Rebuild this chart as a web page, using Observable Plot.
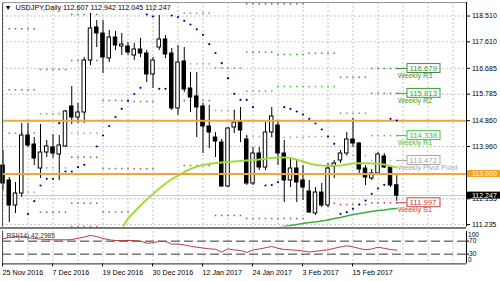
<!DOCTYPE html>
<html><head><meta charset="utf-8">
<script src="https://cdn.jsdelivr.net/npm/d3@7"></script>
<script src="https://cdn.jsdelivr.net/npm/@observablehq/plot@0.6"></script>
<style>
html,body{margin:0;padding:0;background:#fff;}
#chart{position:relative;width:500px;height:281px;overflow:hidden;font-family:"Liberation Sans",Arial,sans-serif;}
#main{position:absolute;left:0;top:0;}
#sep{position:absolute;left:0;top:227px;width:466px;height:2px;background:#7a7a7a;}
#rsi{position:absolute;left:0;top:229px;}
svg{display:block;}
</style></head><body>
<div id="chart"><div id="main"></div><div id="sep"></div><div id="rsi"></div></div>
<script>
// ---------- data ----------
const symbolName = "USDJPY,Daily";
const dateLabels = ["25 Nov 2016","7 Dec 2016","19 Dec 2016","30 Dec 2016","12 Jan 2017","24 Jan 2017","3 Feb 2017","15 Feb 2017"];
const dateLabelBars = [0,8,16,24,32,40,48,56];

const open = [113.297,112.774,111.902,112.320,114.343,114.029,113.192,113.750,113.925,113.681,
113.960,115.355,114.971,115.145,116.959,118.110,117.901,117.029,117.761,117.448,
117.448,117.134,117.343,117.203,116.471,117.413,117.692,117.203,115.285,116.924,
115.983,115.704,115.355,114.657,114.273,114.099,112.564,114.622,114.797,114.204,
112.669,113.715,113.227,114.448,114.692,113.715,112.774,113.192,112.774,112.390,
111.623,112.355,111.902,113.262,113.471,113.715,114.204,114.064,113.192,112.843,
113.018,113.611,113.227,112.607];
const high = [113.820,112.878,112.704,114.762,114.762,114.273,114.727,114.169,114.378,114.343,
115.215,116.052,115.459,117.064,118.599,118.354,118.354,118.006,117.971,117.901,
117.587,117.552,117.727,117.308,117.064,118.529,117.831,117.378,117.482,117.413,
116.541,116.541,115.459,115.390,114.448,114.204,114.622,115.215,115.320,114.343,
113.925,113.925,114.797,115.320,114.866,114.169,113.576,113.471,113.297,112.774,
112.529,112.669,113.367,113.471,113.820,114.448,114.947,114.099,113.297,113.157,
113.750,113.715,113.297,112.942];
const low = [112.425,111.309,111.623,112.181,113.925,113.297,112.843,113.576,113.541,112.774,
113.925,114.727,114.762,114.762,116.785,117.413,116.506,116.889,117.308,117.134,
117.134,116.959,117.064,116.192,115.983,117.308,117.029,115.215,115.041,115.843,
115.145,114.273,113.715,113.890,113.576,112.529,112.529,114.413,114.099,112.599,
112.599,113.122,113.122,114.273,113.297,112.006,112.529,112.006,112.076,111.623,
111.553,111.832,111.832,112.843,113.367,113.646,113.925,113.018,112.599,112.774,
113.018,113.192,112.529,112.045];
const close = [112.669,111.902,112.320,114.343,113.994,113.541,113.750,113.960,113.715,113.994,
115.180,114.971,115.145,116.959,118.075,117.901,117.064,117.761,117.482,117.517,
117.238,117.343,117.203,116.471,116.959,117.692,117.169,115.285,116.889,115.948,
115.669,115.320,114.657,114.448,114.134,112.564,114.587,114.797,114.518,112.669,
113.715,113.227,114.448,115.006,113.715,112.774,113.192,112.704,112.529,111.657,
112.355,111.902,113.192,113.367,113.715,114.204,114.064,113.157,112.878,113.018,
113.681,113.227,112.599,112.247];

const sar = [null,null,null,null,111.612,112.052,112.599,112.833,112.833,114.772,
113.088,113.088,113.238,113.321,null,113.960,114.343,114.675,114.989,115.275,
115.554,115.791,116.007,118.564,118.494,115.972,115.972,118.529,118.477,118.344,
118.215,118.047,117.856,117.528,117.221,116.865,116.342,115.798,115.589,115.589,
115.330,null,112.599,112.617,112.721,115.330,115.275,115.180,115.076,114.926,
114.762,114.552,114.308,114.054,111.612,111.668,111.787,111.937,112.076,112.310,
112.495,112.624,114.926,114.866];

const maFastFrom = 19;
const maFast = [111.099,111.448,111.675,111.901,112.111,112.303,112.494,112.669,112.826,112.948,
113.070,113.175,113.262,113.314,113.349,113.384,113.401,113.419,113.436,113.454,
113.471,113.489,113.506,113.530,113.558,113.576,113.576,113.558,113.506,113.436,
113.367,113.314,113.297,113.286,113.286,113.297,113.332,113.367,113.377,113.377,
113.367,113.356,113.332,113.280,113.227];
const maSlowFrom = 44;
const maSlow = [111.117,111.169,111.204,111.239,111.274,111.309,111.326,111.361,111.396,111.448,
111.483,111.535,111.588,111.623,111.657,111.692,111.727,111.745,111.780,111.797];

const rsi = [77.2,81.5,83.7,83.4,80.6,78.2,76.3,75.1,74.2,74.2,
74.2,74.8,78.8,82.8,87.4,84.3,78.2,74.2,72.0,72.0,
72.0,72.0,69.8,63.7,64.9,69.8,69.2,60.6,61.2,58.2,
54.2,51.4,48.9,46.5,45.2,36.6,46.2,42.8,41.2,35.1,
42.8,45.8,49.8,53.5,48.0,44.3,43.4,41.8,39.7,36.6,
38.8,41.2,43.4,48.0,52.0,55.7,52.6,47.4,43.4,45.8,
51.4,48.0,44.3,42.2985];
const rsiPeriod = 14;
const rsiLevels = [70, 30];

const priceTicks = [118.510,117.610,116.685,115.785,114.860,113.960,112.135,111.235];
const hLines = [114.860, 113.000];

// weekly pivot dotted segments (first bar, last bar, level, kind)
const pivotFrom = [1,1,1,1, 6,6,6,6, 11,11,11,11,11,11, 16,16,16, 21,21, 29,29,29,29, 34,34,34, 39,39,39,39,39, 44,44,44,44,44, 49,49,49,49, 54,54,54,54, 59,59,59,59,59];
const pivotTo   = [5,5,5,5, 10,10,10,10, 15,15,15,15,15,15, 20,20,20, 24,24, 33,33,33,33, 38,38,38, 43,43,43,43,43, 48,48,48,48,48, 53,53,53,53, 58,58,58,58, 63,63,63,63,63];
const pivotLevel = [118.065,115.937,114.423,112.366,
116.645,115.100,113.217,111.668,
118.564,116.959,114.423,113.586,111.982,111.160,
115.564,113.192,111.675,
115.529,113.182,
118.609,116.844,115.564,113.297,
116.698,115.215,111.553,
118.937,117.249,115.895,114.308,111.448,
118.937,117.168,116.052,114.284,111.448,
117.214,116.052,114.308,111.982,
116.377,115.121,113.646,111.937,
116.679,115.813,114.338,113.472,111.997];
const pivotKind = ["R3","R2","R1","P", "R2","R1","P","S1", "R3","R2","P","S1","S2","S3", "S1","S2","S3", "S2","S3",
"R1","P","S1","S2", "R1","P","S2", "R3","R2","R1","P","S2", "R3","R2","R1","P","S2", "R2","R1","P","S1", "R2","R1","P","S1",
"R3","R2","R1","P","S1"];

const weekLabelValue = [116.679,115.813,114.338,113.472,111.997];
const weekLabelName = ["Weekly R3","Weekly R2","Weekly R1","Weekly Pivot Point","Weekly S1"];
const weekLabelKind = ["R3","R2","R1","P","S1"];

// ---------- styling ----------
const kindColor = {R3:"#3e8a3e", R2:"#34a334", R1:"#3cc43c", P:"#a6a6a6", S1:"#c84040", S2:"#a85a4a", S3:"#a85a4a"};
const font = "Liberation Sans, Arial, sans-serif";
const N = open.length;
const last = N - 1;
const xDomain = [-0.08, 74.16];
const yDomain = [111.152, 118.982];
const fmt3 = d3.format(".3f");

const bars = open.map((o, i) => ({i, o, h: high[i], l: low[i], c: close[i], up: close[i] >= o}));
const sarData = sar.map((v, i) => ({i, v})).filter(d => d.v != null);
const fastData = maFast.map((v, k) => ({i: maFastFrom + k, v}));
const slowData = maSlow.map((v, k) => ({i: maSlowFrom + k, v}));
const rsiData = rsi.map((v, i) => ({i, v}));
const gridBars = d3.range(0, xDomain[1], 4);

const pivotDots = [];
pivotLevel.forEach((v, k) => {
  for (let i = pivotFrom[k]; i <= pivotTo[k]; i++) pivotDots.push({i, v, kind: pivotKind[k]});
});
const weekLabels = weekLabelValue.map((v, k) => ({v, name: weekLabelName[k], kind: weekLabelKind[k]}));
const boxX1 = last + 1.72, boxX2 = last + 7.0, boxHalf = 0.155;

const current = [
  {v: hLines[1], fill: "#f4a12e"},
  {v: close[last], fill: "#000"}
];
const axisX1 = xDomain[1] + 0.16, axisX2 = xDomain[1] + 5.45, curHalf = 0.122;

const title = "\u25BC  " + symbolName + " " + [open[last], high[last], low[last], close[last]].map(fmt3).join(" ");

// ---------- main price panel ----------
const main = Plot.plot({
  width: 500, height: 227,
  marginLeft: 2, marginRight: 34, marginTop: 2, marginBottom: 0.5,
  x: {domain: xDomain, axis: null},
  y: {domain: yDomain, axis: null},
  style: {fontFamily: font, fontSize: "7px", background: "transparent", color: "#000", overflow: "visible"},
  marks: [
    Plot.ruleX(gridBars, {stroke: "#c4c4c4", strokeDasharray: "2,2"}),
    Plot.ruleY(priceTicks, {stroke: "#c4c4c4", strokeDasharray: "2,2"}),
    Plot.ruleY([close[last]], {stroke: "#c8c8c8"}),
    Plot.dot(pivotDots, {x: "i", y: "v", symbol: "square", r: 0.85, fill: d => kindColor[d.kind], stroke: null}),
    Plot.ruleX(bars, {x: "i", y1: "l", y2: "h", stroke: "#000", strokeWidth: 1}),
    Plot.rect(bars, {x1: d => d.i - 0.28, x2: d => d.i + 0.28, y1: "o", y2: "c", fill: d => d.up ? "#fff" : "#000", stroke: "#000", strokeWidth: 1}),
    Plot.line(fastData, {x: "i", y: "v", stroke: "#a2dc3c", strokeWidth: 2, clip: true}),
    Plot.line(slowData, {x: "i", y: "v", stroke: "#3cae3c", strokeWidth: 1.5, clip: true}),
    Plot.ruleY(hLines, {stroke: "#f2a53c", strokeWidth: 2}),
    Plot.dot(sarData, {x: "i", y: "v", r: 1.1, fill: "#0000a0", stroke: null}),
    // weekly level labels
    Plot.ruleY(weekLabels, {y: "v", x1: last, x2: boxX1, stroke: d => kindColor[d.kind]}),
    Plot.rect(weekLabels, {x1: boxX1, x2: boxX2, y1: d => d.v - boxHalf, y2: d => d.v + boxHalf, fill: "#fff", stroke: d => kindColor[d.kind]}),
    Plot.text(weekLabels, {x: boxX1 + 0.3, y: "v", text: d => fmt3(d.v), textAnchor: "start", fontSize: 7.8, fill: d => kindColor[d.kind]}),
    Plot.text(weekLabels, {x: last + 0.15, y: "v", dy: 7, text: "name", textAnchor: "start", fontSize: 7.2, fill: d => kindColor[d.kind]}),
    // price axis
    Plot.ruleX([xDomain[1]], {stroke: "#000"}),
    Plot.ruleX([xDomain[0]], {stroke: "#555"}),
    Plot.ruleY([yDomain[1]], {stroke: "#999"}),
    Plot.axisY(priceTicks, {anchor: "right", tickFormat: fmt3, tickSize: 3, tickPadding: 2.5, fontSize: 7, label: null}),
    Plot.rect(current, {x1: axisX1, x2: axisX2, y1: d => d.v - curHalf, y2: d => d.v + curHalf, fill: "fill"}),
    Plot.text(current, {x: axisX1, y: "v", dx: 4.5, text: d => fmt3(d.v), textAnchor: "start", fill: "#fff", fontSize: 7}),
    Plot.text([title], {frameAnchor: "top-left", dx: 2, dy: 2, lineAnchor: "top", fontSize: 7.2, fill: "#000"})
  ]
});
document.getElementById("main").appendChild(main);

// ---------- RSI panel ----------
const rsiPlot = Plot.plot({
  width: 500, height: 52,
  marginLeft: 2, marginRight: 34, marginTop: 1.9, marginBottom: 17.6,
  x: {domain: xDomain, axis: null},
  y: {domain: [0, 100], axis: null},
  style: {fontFamily: font, fontSize: "7px", background: "transparent", color: "#000", overflow: "visible"},
  marks: [
    Plot.ruleX(gridBars, {stroke: "#c4c4c4", strokeDasharray: "2,2"}),
    Plot.ruleY(rsiLevels, {stroke: "#333", strokeDasharray: "9,4"}),
    Plot.line(rsiData, {x: "i", y: "v", stroke: "#b4403c", strokeWidth: 1}),
    Plot.ruleY([0], {stroke: "#222"}),
    Plot.ruleX([xDomain[1]], {stroke: "#000"}),
    Plot.ruleX([xDomain[0]], {stroke: "#555"}),
    Plot.axisY(rsiLevels, {anchor: "right", tickSize: 2, tickPadding: 0.5, fontSize: 6.6, label: null}),
    Plot.axisY([100], {anchor: "right", tickSize: 0, tickPadding: 1.5, dy: 3, fontSize: 6.6, label: null}),
    Plot.axisY([0], {anchor: "right", tickSize: 0, tickPadding: 1.5, dy: -4.4, fontSize: 6.6, label: null}),
    Plot.axisX(dateLabelBars, {anchor: "bottom", tickFormat: d => dateLabels[dateLabelBars.indexOf(d)], textAnchor: "start", dx: -0.5, tickSize: 3, tickPadding: 2.5, fontSize: 7.2, label: null}),
    Plot.text([`RSI(${rsiPeriod}) ${rsi[last]}`], {frameAnchor: "top-left", dx: 4, dy: 1.5, lineAnchor: "top", fontSize: 6.6, fill: "#333"})
  ]
});
document.getElementById("rsi").appendChild(rsiPlot);
</script>
</body></html>
